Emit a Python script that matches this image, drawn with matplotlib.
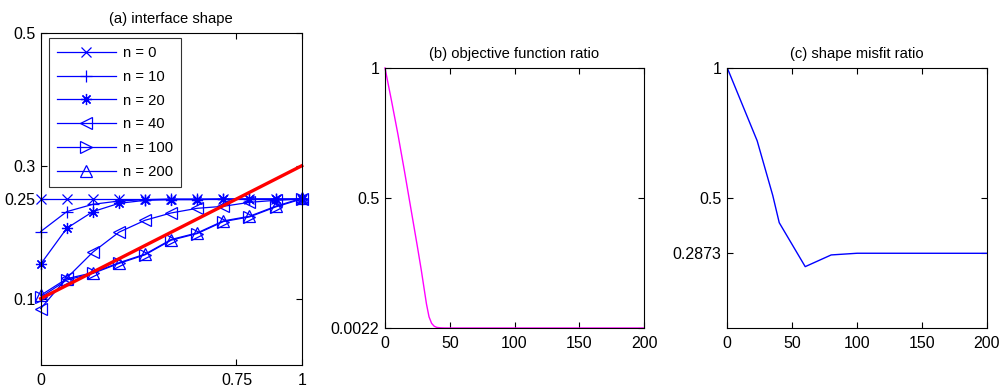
import matplotlib
matplotlib.use("Agg")
import matplotlib.pyplot as plt
import numpy as np

plt.rcParams['font.family'] = ['Liberation Sans', 'DejaVu Sans']
plt.rcParams['font.size'] = 10

# ---------------- data ----------------
# (a) interface shape
x_shape = [0.0, 0.1, 0.2, 0.3, 0.4, 0.5, 0.6, 0.7, 0.8, 0.9, 1.0]
y_n0 = [0.25, 0.25, 0.25, 0.25, 0.25, 0.25, 0.25, 0.25, 0.25, 0.25, 0.25]
y_n10 = [0.201, 0.231, 0.242, 0.247, 0.249, 0.25, 0.25, 0.25, 0.25, 0.25, 0.25]
y_n20 = [0.152, 0.206, 0.231, 0.2435, 0.248, 0.249, 0.249, 0.25, 0.25, 0.25, 0.25]
y_n40 = [0.085, 0.131, 0.170, 0.200, 0.218, 0.229, 0.236, 0.239, 0.245, 0.248, 0.25]
y_n100 = [0.102, 0.128, 0.138, 0.153, 0.166, 0.188, 0.198, 0.216, 0.223, 0.238, 0.25]
y_n200 = [0.105, 0.130, 0.139, 0.154, 0.167, 0.189, 0.199, 0.217, 0.224, 0.239, 0.251]
x_true = [0.0, 1.0]
y_true = [0.1, 0.3]
shape_labels = ['n = 0', 'n = 10', 'n = 20', 'n = 40', 'n = 100', 'n = 200']

# (b) objective function ratio
it_obj = [0, 5, 10, 15, 20, 25, 28, 30, 32, 34, 36, 38, 40, 43, 46, 200]
obj_ratio = [1.0, 0.875, 0.745, 0.605, 0.46, 0.315, 0.225, 0.16, 0.095,
             0.045, 0.02, 0.009, 0.0045, 0.0028, 0.0022, 0.0022]

# (c) shape misfit ratio
it_mis = [0, 23, 35, 40, 60, 80, 100, 200]
mis_ratio = [1.0, 0.72, 0.51, 0.405, 0.236, 0.281, 0.2875, 0.2873]

# ---------------- figure ----------------
W, H = 1003, 390
fig = plt.figure(figsize=(W / 100, H / 100), dpi=100)
TICK_FS = 11.5
TITLE_FS = 10.6

def style(ax):
    for s in ax.spines.values():
        s.set_linewidth(0.8)
    ax.tick_params(direction='in', length=4, width=0.8, top=True, right=True,
                   labelsize=TICK_FS)
    ax.tick_params(axis='x', pad=6)
    ax.tick_params(axis='y', pad=4)

axa = fig.add_axes([40.7 / W, (H - 365) / H, 261 / W, 332 / H])
blue = (0, 0, 1)
series = [y_n0, y_n10, y_n20, y_n40, y_n100, y_n200]
markers = ['x', '+', (8, 2, 0), '<', '>', '^']
msizes = [6.5, 9, 8, 9, 9, 9]
for ys, m, ms, lab in zip(series, markers, msizes, shape_labels):
    axa.plot(x_shape, ys, color=blue, marker=m, markersize=ms, lw=0.9,
             markerfacecolor='none', markeredgecolor=blue, markeredgewidth=0.9,
             label=lab, clip_on=False)
axa.plot(x_true, y_true, color='red', lw=2.4, clip_on=False)
axa.set_xlim(0, 1)
axa.set_ylim(0, 0.5)
axa.set_xticks([0, 0.75, 1])
axa.set_xticklabels(['0', '0.75', '1'])
axa.set_yticks([0.1, 0.25, 0.3, 0.5])
axa.set_yticklabels(['0.1', '0.25', '0.3', '0.5'])
axa.set_title('(a) interface shape', fontsize=TITLE_FS, pad=7)
style(axa)
leg = axa.legend(loc='upper left', bbox_to_anchor=(0.031, 0.985), fontsize=TITLE_FS,
                 frameon=True, fancybox=False, edgecolor='black',
                 handlelength=4.0, handletextpad=0.5, labelspacing=0.66,
                 borderpad=0.55, borderaxespad=0.0)
leg.get_frame().set_linewidth(0.8)

axb = fig.add_axes([385 / W, (H - 328) / H, 259 / W, 260 / H])
axb.plot(it_obj, obj_ratio, color=(1, 0, 1), lw=1.0, clip_on=False)
axb.set_xlim(0, 200)
axb.set_ylim(0.0022, 1)
axb.set_xticks([0, 50, 100, 150, 200])
axb.set_yticks([0.0022, 0.5, 1])
axb.set_yticklabels(['0.0022', '0.5', '1'])
axb.set_title('(b) objective function ratio', fontsize=TITLE_FS, pad=7)
style(axb)

axc = fig.add_axes([727.3 / W, (H - 328) / H, 259.7 / W, 260 / H])
axc.plot(it_mis, mis_ratio, color=blue, lw=1.0)
axc.set_xlim(0, 200)
axc.set_ylim(0, 1)
axc.set_xticks([0, 50, 100, 150, 200])
axc.set_yticks([0.2873, 0.5, 1])
axc.set_yticklabels(['0.2873', '0.5', '1'])
axc.set_title('(c) shape misfit ratio', fontsize=TITLE_FS, pad=7)
style(axc)

fig.savefig('out.png', dpi=100)
